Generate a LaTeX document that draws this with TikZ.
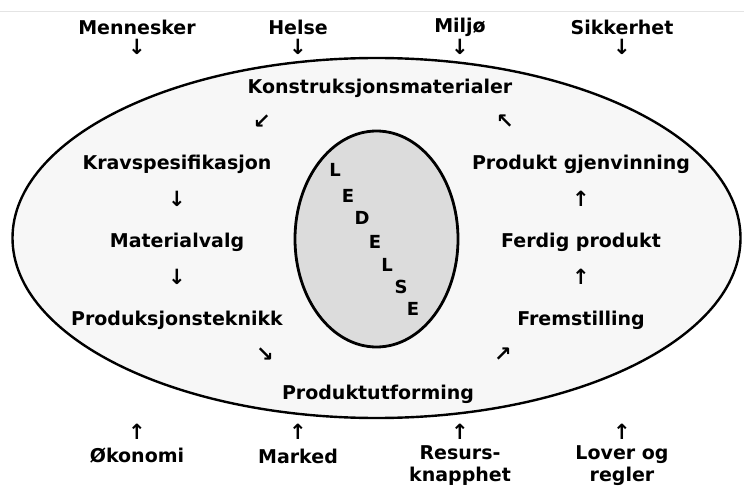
\documentclass[tikz,border=0pt]{standalone}
\usepackage{fontspec}
\setmainfont{DejaVu Sans}
\newfontfamily\arrowfont{DejaVu Sans}
\definecolor{outerfill}{HTML}{F7F7F7}
\definecolor{innerfill}{HTML}{DCDCDC}
\definecolor{topline}{HTML}{E4E4E4}
\begin{document}
\begin{tikzpicture}[x=1pt, y=-1pt,
    lbl/.style={font=\fontsize{19}{22}\selectfont\bfseries, align=center, inner sep=0pt},
    arr/.style={font=\arrowfont\fontsize{21}{21}\selectfont\bfseries, inner sep=0pt},
    letter/.style={font=\fontsize{18}{18}\selectfont\bfseries, inner sep=0pt}]
      \useasboundingbox (0, 0) rectangle (744, 489);
      \draw[topline, line width=1pt] (0, 12) -- (744, 12);

      % ytre og indre ellipse
      \draw[line width=2.4pt, fill=outerfill] (376.5, 238) ellipse (364 and 180);
      \draw[line width=2.8pt, fill=innerfill] (376.5, 239) ellipse (81.5 and 108);

      % rammefaktorer
      \node[lbl] (menn) at (137, 27) {Mennesker};
      \node[lbl] (helse) at (298, 27) {Helse};
      \node[lbl] (miljo) at (460, 27) {Miljø};
      \node[lbl] (sikk) at (622, 27) {Sikkerhet};
      \node[arr] (a1) at (137, 47) {↓};
      \node[arr] (a2) at (298, 47) {↓};
      \node[arr] (a3) at (460, 47) {↓};
      \node[arr] (a4) at (622, 47) {↓};

      \node[lbl] (okon) at (137, 456) {Økonomi};
      \node[lbl] (marked) at (298, 456) {Marked};
      \node[lbl] (resurs) at (460, 466) {Resurs-\\knapphet};
      \node[lbl] (lover) at (622, 466) {Lover og\\regler};
      \node[arr] (b1) at (137, 432) {↑};
      \node[arr] (b2) at (298, 432) {↑};
      \node[arr] (b3) at (460, 432) {↑};
      \node[arr] (b4) at (622, 432) {↑};

      % kretslop
      \node[lbl] (konstr) at (380, 88) {Konstruksjonsmaterialer};
      \node[arr] (c1) at (262, 122) {↙};
      \node[arr] (c2) at (505, 122) {↖};
      \node[lbl] (krav) at (177, 164) {Kravspesifikasjon};
      \node[arr] (c3) at (177, 199) {↓};
      \node[lbl] (matv) at (177, 242) {Materialvalg};
      \node[arr] (c4) at (177, 277) {↓};
      \node[lbl] (prodtek) at (177, 320) {Produksjonsteknikk};
      \node[arr] (c5) at (265, 355) {↘};
      \node[lbl] (produtf) at (378, 394) {Produktutforming};
      \node[arr] (c6) at (503, 355) {↗};
      \node[lbl] (fremst) at (581, 320) {Fremstilling};
      \node[arr] (c7) at (581, 277) {↑};
      \node[lbl] (ferdig) at (581, 242) {Ferdig produkt};
      \node[arr] (c8) at (581, 199) {↑};
      \node[lbl] (gjenv) at (581, 164) {Produkt gjenvinning};

      % ledelse
      \node[letter] (l1) at (335, 170) {L};
      \node[letter] (l2) at (348, 196) {E};
      \node[letter] (l3) at (362, 218) {D};
      \node[letter] (l4) at (375, 242) {E};
      \node[letter] (l5) at (387, 265) {L};
      \node[letter] (l6) at (401, 287) {S};
      \node[letter] (l7) at (413, 309) {E};
    \end{tikzpicture}
\end{document}
